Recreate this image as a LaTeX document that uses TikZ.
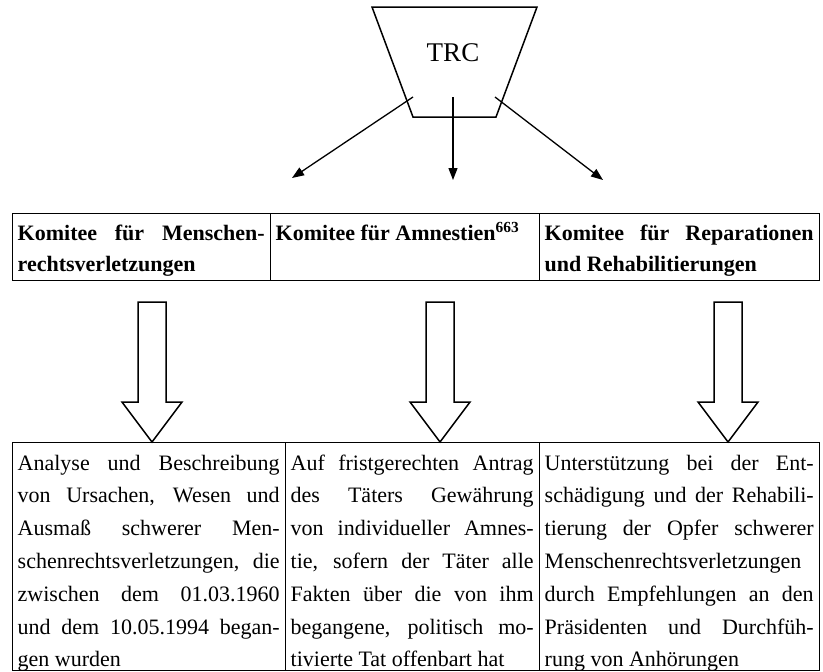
\documentclass[tikz,border=0pt]{standalone}
\usepackage{fontspec}
\setmainfont{Liberation Serif}
\usetikzlibrary{%
    arrows.meta,
    calc,
    positioning
}

\pretolerance=10000
\tolerance=10000
\hyphenpenalty=10000

\newcommand{\headfont}{\fontsize{22}{31.5}\selectfont\bfseries}
\newcommand{\cellfont}{\fontsize{22}{32.8}\selectfont}

\tikzset{
    cellbox/.style={draw, line width=1pt, inner sep=0pt, outer sep=0pt,
                    anchor=north west},
    celltext/.style={anchor=north west, inner sep=0pt, align=justify},
    thinarrow/.style={line width=1.3pt, -{Triangle[length=12pt,width=9pt]}},
    hollow/.style={line width=1.5pt, line join=miter}
}

\begin{document}
\begin{tikzpicture}[x=1pt, y=-1pt]
    \useasboundingbox (0,0) rectangle (823,672);

    % TRC
    \draw[line width=1.5pt] (372,7) -- (537,7) -- (496,117) -- (413,117) -- cycle;
    \node[font=\fontsize{27}{30}\selectfont] (trc) at (453,53) {TRC};

    \coordinate (fromL) at (413,97);
    \coordinate (fromM) at (453,97);
    \coordinate (fromR) at (495,97);
    \coordinate (toL)   at (292,178);
    \coordinate (toM)   at (453,180);
    \coordinate (toR)   at (603,180);
    \foreach \Side in {L,M,R}
        \draw[thinarrow] (from\Side) -- (to\Side);

    % committees
    \node[cellbox, minimum width=258, minimum height=67] (k1) at (12,213) {};
    \node[cellbox, minimum width=269, minimum height=67, right=0pt of k1] (k2) {};
    \node[cellbox, minimum width=280, minimum height=67, right=0pt of k2] (k3) {};

    \node[celltext, text width=247, font=\headfont] (k1t)
        at ([xshift=5.5pt,yshift=-5pt]k1.north west)
        {\strut Komitee für Menschen-\linebreak rechtsverletzungen};
    \node[celltext, text width=258, font=\headfont] (k2t)
        at ([xshift=5.5pt,yshift=-5pt]k2.north west)
        {\strut Komitee für Amnestien\textsuperscript{663}};
    \node[celltext, text width=269, font=\headfont] (k3t)
        at ([xshift=5.5pt,yshift=-5pt]k3.north west)
        {\strut Komitee für Reparationen\linebreak und Rehabilitierungen};

    % tasks
    \node[cellbox, minimum width=273, minimum height=228] (b1) at (12,442) {};
    \node[cellbox, minimum width=254, minimum height=228, right=0pt of b1] (b2) {};
    \node[cellbox, minimum width=280, minimum height=228, right=0pt of b2] (b3) {};

    \node[celltext, text width=262, font=\cellfont] (b1t)
        at ([xshift=5.5pt,yshift=-5pt]b1.north west)
        {\strut Analyse und Beschreibung\linebreak
         von Ursachen, Wesen und\linebreak
         Ausmaß schwerer Men-\linebreak
         schenrechtsverletzungen, die\linebreak
         zwischen dem 01.03.1960\linebreak
         und dem 10.05.1994 began-\linebreak
         gen wurden};
    \node[celltext, text width=243, font=\cellfont] (b2t)
        at ([xshift=5.5pt,yshift=-5pt]b2.north west)
        {\strut Auf fristgerechten Antrag\linebreak
         des Täters Gewährung\linebreak
         von individueller Amnes-\linebreak
         tie, sofern der Täter alle\linebreak
         Fakten über die von ihm\linebreak
         begangene, politisch mo-\linebreak
         tivierte Tat offenbart hat};
    \node[celltext, text width=269, font=\cellfont] (b3t)
        at ([xshift=5.5pt,yshift=-5pt]b3.north west)
        {\strut Unterstützung bei der Ent-\linebreak
         schädigung und der Rehabili-\linebreak
         tierung der Opfer schwerer\linebreak
         Menschenrechtsverletzungen\linebreak
         durch Empfehlungen an den\linebreak
         Präsidenten und Durchfüh-\linebreak
         rung von Anhörungen};

    % hollow arrows
    \foreach \Col/\X in {1/152,2/440,3/728} {
        \coordinate (top\Col) at (\X,302);
        \coordinate (tip\Col) at (top\Col |- b\Col.north);
        \draw[hollow] ($(top\Col)+(-14,0)$) -- ($(tip\Col)+(-14,-40)$)
            -- ($(tip\Col)+(-30,-40)$) -- (tip\Col) -- ($(tip\Col)+(30,-40)$)
            -- ($(tip\Col)+(14,-40)$) -- ($(top\Col)+(14,0)$) -- cycle;
    }
\end{tikzpicture}
\end{document}
